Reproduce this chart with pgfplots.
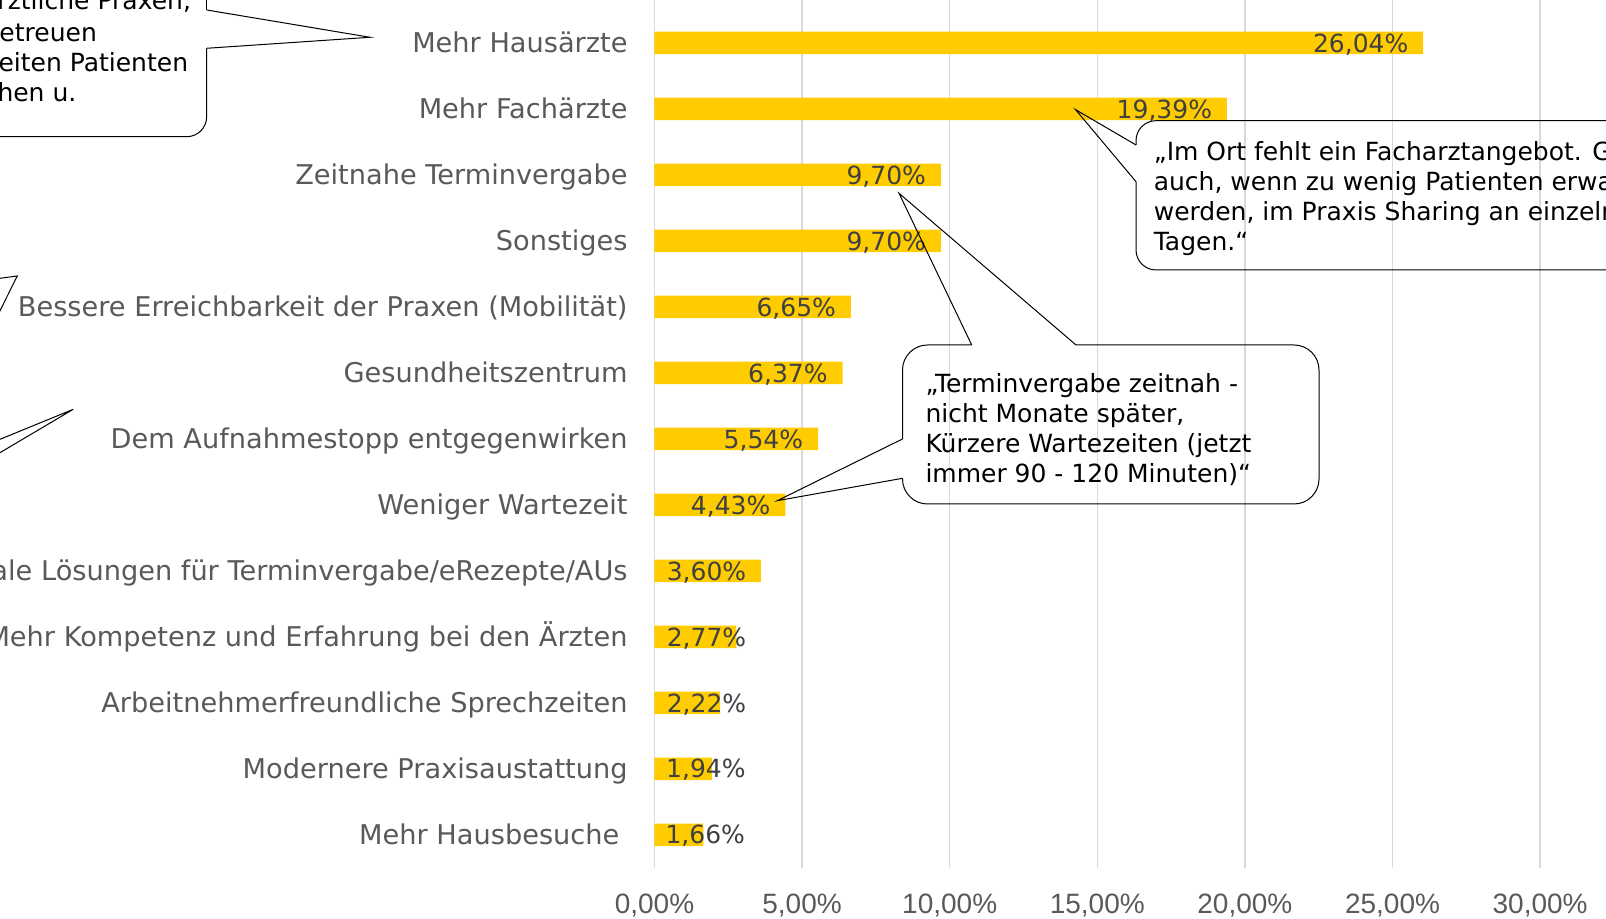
\documentclass[border=0pt]{standalone}
\usepackage{fontspec}
\setmainfont{DejaVu Sans}
\newfontfamily\tickfont{Liberation Sans}
\usepackage{pgfplots}
\pgfplotsset{compat=1.18}
\usepackage{pgfplotstable}
\definecolor{baryellow}{HTML}{FFCC00}
\definecolor{catgray}{HTML}{595959}
\definecolor{lblgray}{HTML}{404040}
\definecolor{gridgray}{HTML}{D9D9D9}

\pgfplotstableread{
y v lx t
0 26.04 25.55 26,04\%
1 19.39 18.90 19,39\%
2 9.70 9.21 9,70\%
3 9.70 9.21 9,70\%
4 6.65 6.16 6,65\%
5 6.37 5.88 6,37\%
6 5.54 5.05 5,54\%
7 4.43 3.94 4,43\%
8 3.60 3.12 3,60\%
9 2.77 3.12 2,77\%
10 2.22 3.12 2,22\%
11 1.94 3.10 1,94\%
12 1.66 3.08 1,66\%
}\data

\begin{document}
\begin{tikzpicture}
\begin{axis}[
  x=14.76pt, y=32.99pt, y dir=reverse,
  xmin=0, xmax=33, ymin=-0.7, ymax=12.5,
  axis line style={draw=none},
  tick style={draw=none},
  xmajorgrids, grid style={gridgray, line width=0.75pt},
  xtick={0,5,10,15,20,25,30},
  xticklabels={{0,00\%},{5,00\%},{10,00\%},{15,00\%},{20,00\%},{25,00\%},{30,00\%}},
  xticklabel style={anchor=north, inner sep=0pt, yshift=-12.7pt, text=catgray, font=\tickfont\fontsize{14}{16}\selectfont},
  ytick={0,...,12},
  yticklabels={Mehr Hausärzte, Mehr Fachärzte, Zeitnahe Terminvergabe, Sonstiges, Bessere Erreichbarkeit der Praxen (Mobilität), Gesundheitszentrum, Dem Aufnahmestopp entgegenwirken, Weniger Wartezeit, Digitale Lösungen für Terminvergabe/eRezepte/AUs, Mehr Kompetenz und Erfahrung bei den Ärzten, Arbeitnehmerfreundliche Sprechzeiten, Modernere Praxisaustattung, Mehr Hausbesuche\kern4.1pt},
  yticklabel style={anchor=base east, inner sep=0pt, xshift=-13.25pt, yshift=-4.95pt, text=catgray, font=\fontsize{13.6}{16}\selectfont},
  clip=false,
]
\addplot[xbar, bar width=11.25pt, fill=baryellow, draw=none] table[x=v, y=y] {\data};
\addplot[draw=none, mark=none, nodes near coords, point meta=explicit symbolic,
  nodes near coords style={anchor=base east, inner sep=0pt, yshift=-4.6pt, text=lblgray, font=\fontsize{12.5}{15}\selectfont}]
  table[x=lx, y=y, meta=t] {\data};
\coordinate (TL) at (axis cs:-22.171,-0.6517);
\coordinate (BR) at (axis cs:32.232,13.2616);
\end{axis}

\begin{scope}[shift={(TL)}, x=0.5pt, y=-0.5pt, line width=0.5pt,
  every node/.style={anchor=base west, inner sep=0pt, font=\fontsize{12.5}{15}\selectfont, text=black}]
  % callout 1 (top left)
  \draw[rounded corners=10pt] (206.7,48.3) -- (206.7,136.7) -- (-300,136.7);
  \draw[rounded corners=10pt] (206.7,10) -- (206.7,-100);
  \draw (206.7,10) -- (370,37.3) -- (206.7,48.3);
  \node at (-3,10) {\llap{„Mehr hausä}rztliche Praxen,};
  \node at (-1,41.7) {\llap{die b}etreuen};
  \node at (-2,71.7) {\llap{zu Randz}eiten Patienten};
  \node at (-3,101.7) {\llap{anzuse}hen u.};
  % left pointers (boxes off image)
  \draw (0,278.3) -- (17.3,276) -- (-20,350.8);
  \draw (-20,281) -- (0,278.3);
  \draw (-20,447.5) -- (73.3,409.3) -- (-20,464.5);
  % callout 2 (Facharzt)
  \draw[rounded corners=10pt] (1136,181.7) -- (1136,270) -- (1750,270) -- (1750,120.7) -- (1136,120.7) -- (1136,145);
  \draw (1136,145) -- (1075.5,109.6) -- (1136,181.7);
  \node at (1153.3,160.7) {„Im Ort fehlt ein Facharztangebot. Gerne};
  \node at (1153.3,190.7) {auch, wenn zu wenig Patienten erwartet};
  \node at (1153.3,220.7) {werden, im Praxis Sharing an einzelnen};
  \node at (1153.3,250.7) {Tagen.“};
  % callout 3 (Terminvergabe)
  \draw[rounded corners=12.5pt] (1076,345) -- (1319,345) -- (1319,504) -- (902.5,504) -- (902.5,478.3);
  \draw[rounded corners=12.5pt] (902.5,439) -- (902.5,345) -- (971.7,345);
  \draw (971.7,345) -- (899,193.3) -- (1076,345);
  \draw (902.5,439) -- (777.3,500.7) -- (902.5,478.3);
  \node at (925,392.7) {„Terminvergabe zeitnah -};
  \node at (925,422.7) {nicht Monate später,};
  \node at (925,452.7) {Kürzere Wartezeiten (jetzt};
  \node at (925,482.7) {immer 90 - 120 Minuten)“};
\end{scope}
\pgfresetboundingbox
\path[use as bounding box] (TL) rectangle (BR);
\end{tikzpicture}
\end{document}
